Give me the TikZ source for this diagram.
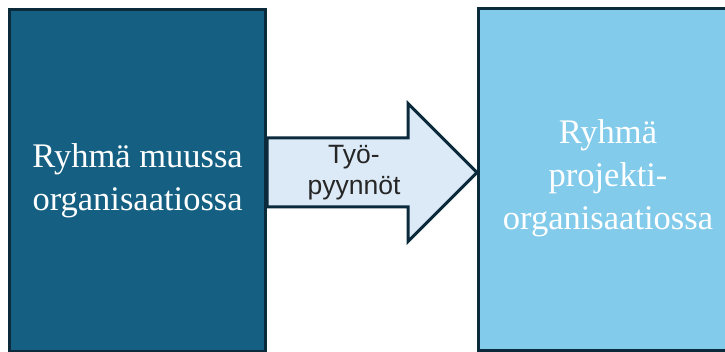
\documentclass[tikz,border=0pt]{standalone}
\usepackage{fontspec}
\setmainfont{Liberation Serif}
\newfontfamily\labelsans{Liberation Sans}
\usetikzlibrary{calc}
\definecolor{deepblue}{HTML}{156082}
\definecolor{skyblue}{HTML}{83CBEB}
\definecolor{paleblue}{HTML}{DCEAF7}
\definecolor{edgeblue}{HTML}{0B2A3C}
\begin{document}
\begin{tikzpicture}[x=1pt,y=1pt,
  box/.style={draw=edgeblue, line width=3pt, inner sep=0pt, align=center,
    text=white, font=\fontsize{34.5}{43}\selectfont},
  boxtext/.style={align=center, text=white, font=\fontsize{34.5}{43}\selectfont},
  flow/.style={draw=edgeblue, fill=paleblue, line width=3pt, line join=miter},
  flowlabel/.style={align=center, text=black!85, font=\labelsans\fontsize{26.5}{31}\selectfont}]
\useasboundingbox (0,0) rectangle (725,352);
\clip (0,0) rectangle (725,352);
% the two groups
\node[box, fill=deepblue, minimum width=256.2pt, minimum height=342pt] (grp) at (137.6,171.5)
  {Ryhmä muussa\\organisaatiossa};
\node[box, fill=skyblue, minimum width=300pt, minimum height=342pt, anchor=west] (proj) at (477,172.5) {};
\node[boxtext] (projtext) at (608,173.5) {Ryhmä\\projekti-\\organisaatiossa};
% block arrow between them
\coordinate (axis) at (0,179.5);
\coordinate (s) at (grp.east |- axis);
\coordinate (t) at (proj.west |- axis);
\draw[flow] ($(s)+(0,34.5)$) -- ($(t)+(-69,34.5)$) -- ($(t)+(-69,69)$) -- (t)
  -- ($(t)+(-69,-69)$) -- ($(t)+(-69,-34.5)$) -- ($(s)+(0,-34.5)$) -- cycle;
\node[flowlabel] (req) at (354,179) {Työ-\\pyynnöt};
\end{tikzpicture}
\end{document}
